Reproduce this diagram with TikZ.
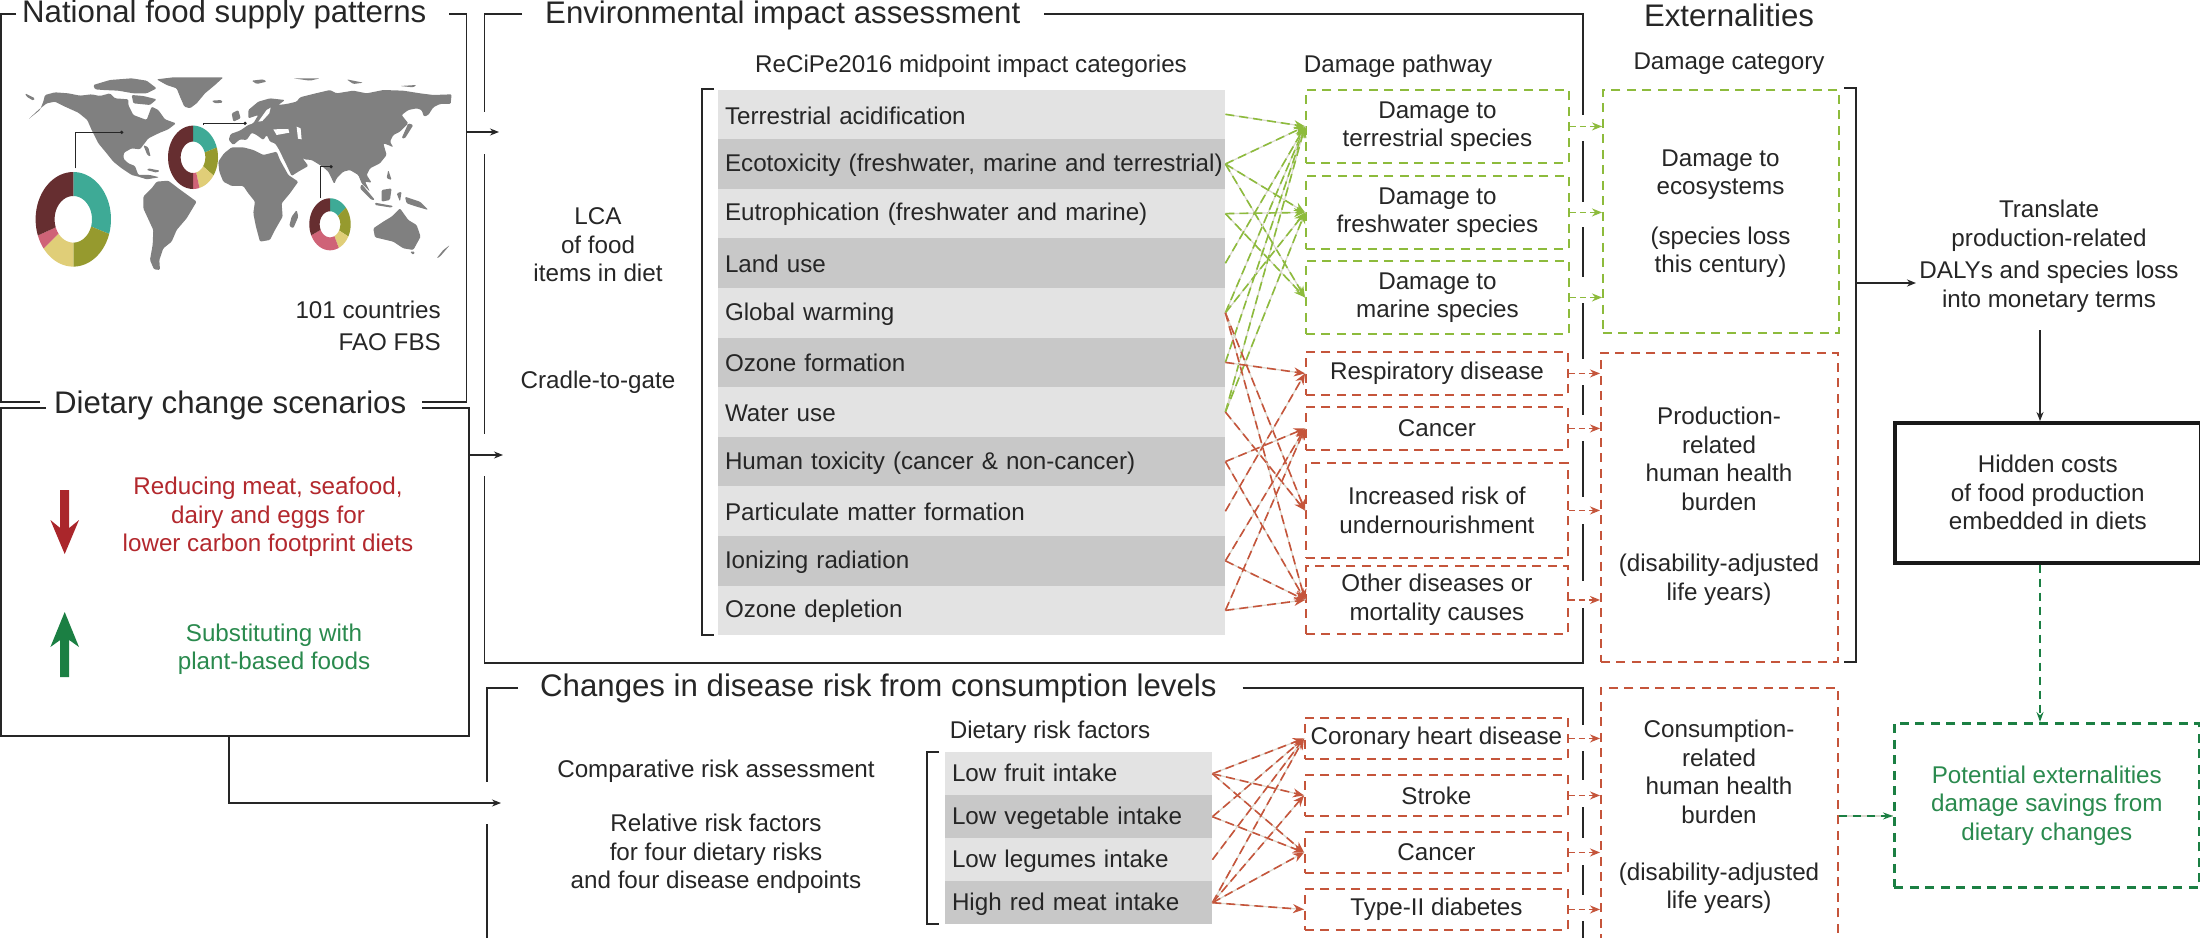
\documentclass[tikz,border=0pt]{standalone}
\usepackage{fontspec}
\setmainfont{Liberation Sans}
\usetikzlibrary{arrows.meta}
\definecolor{ink}{HTML}{262626}
\definecolor{rowlt}{HTML}{E3E3E3}
\definecolor{rowdk}{HTML}{C8C8C8}
\definecolor{lgreen}{HTML}{8DBB3C}
\definecolor{lred}{HTML}{C5553B}
\definecolor{dgreen}{HTML}{1B7F43}
\definecolor{txtred}{HTML}{B3282D}
\definecolor{txtgreen}{HTML}{2A8A4E}
\definecolor{palelink}{HTML}{DAD8CE}
\definecolor{mapgray}{HTML}{808080}
\definecolor{dteal}{HTML}{3EAA96}
\definecolor{dolive}{HTML}{969A2E}
\definecolor{dyellow}{HTML}{E0CE78}
\definecolor{dpink}{HTML}{CF6377}
\definecolor{ddark}{HTML}{662E30}
\newcommand{\fsT}{\fontsize{31.2}{38}\selectfont}
\newcommand{\fsM}{\fontsize{24.2}{28.5}\selectfont}
\tikzset{
  x=1pt,y=-1pt,
  frame/.style={draw=ink,line width=1.8pt},
  thinarrow/.style={draw=ink,line width=1.1pt,-{Stealth[length=9pt,width=7pt]}},
  title/.style={font=\fsT,text=ink,inner sep=0pt,anchor=base west},
  txt/.style={font=\fsM,text=ink,inner sep=0pt,align=center},
  rowbase/.style={font=\fsM,text=ink,anchor=north west,text width=493.4pt,inner xsep=6.8pt,inner ysep=0pt,align=left},
  rowa/.style={rowbase,fill=rowlt,minimum height=49.6pt,text height={(12.5+#1)*1pt},text depth={(12.5-#1)*1pt}},
  rowb/.style={rowbase,fill=rowdk,minimum height=49.6pt,text height={(12.5+#1)*1pt},text depth={(12.5-#1)*1pt}},
  srowa/.style={rowbase,fill=rowlt,text width=253.4pt,minimum height=43pt,text height=20pt,text depth=5pt},
  srowb/.style={rowbase,fill=rowdk,text width=253.4pt,minimum height=43pt,text height=20pt,text depth=5pt},
  gbox/.style={draw=lgreen,line width=1.9pt,dash pattern=on 9pt off 6.5pt,anchor=north west,inner sep=0pt,font=\fsM,text=ink,align=center},
  rbox/.style={draw=lred,line width=1.9pt,dash pattern=on 9pt off 6.5pt,anchor=north west,inner sep=0pt,font=\fsM,text=ink,align=center},
  glk/.style={draw=lgreen,line width=1.6pt,dash pattern=on 9pt off 5pt,-{Stealth[length=11pt,width=9pt]}},
  rlk/.style={draw=lred,line width=1.6pt,dash pattern=on 9pt off 5pt,-{Stealth[length=11pt,width=9pt]}},
  palelk/.style={draw=palelink,line width=1.2pt},
  gsm/.style={draw=lgreen,line width=1.5pt,dash pattern=on 6pt off 4pt,-{Stealth[length=10pt,width=8pt]}},
  rsm/.style={draw=lred,line width=1.5pt,dash pattern=on 6pt off 4pt,-{Stealth[length=10pt,width=8pt]}},
  dgk/.style={draw=dgreen,line width=1.6pt,dash pattern=on 8pt off 6pt,-{Stealth[length=10pt,width=7pt]}},
  leader/.style={draw=ink,line width=1pt},
}
\newcommand{\glink}[2]{\draw[palelk](#1.east)--(#2.west);\draw[glk](#1.east)--(#2.west);}
\newcommand{\rlink}[2]{\draw[palelk](#1.east)--(#2.west);\draw[rlk](#1.east)--(#2.west);}
% donut segment: centre, radii, inner radii, from, to (clockwise from top), colour
\newcommand{\dseg}[9]{\fill[#9] plot[domain=#7:#8,samples=24] ({#1+#3*sin(\x)},{#2-#4*cos(\x)}) -- plot[domain=#8:#7,samples=24] ({#1+#5*sin(\x)},{#2-#6*cos(\x)}) -- cycle;}
\begin{document}
\begin{tikzpicture}
\useasboundingbox (0,0) rectangle (2200,937);
\clip (0,0) rectangle (2200,937);
\fill[white] (0,0) rectangle (2200,937);

% ---------- map
\begin{scope}[shift={(0,60)},x=0.3333pt,y=-0.3333pt]
\fill[mapgray,rounded corners=1.2pt]
 (135,105)--(165,97)--(205,100)--(240,107)--(275,103)--(300,108)--(330,100)--(345,115)--(385,118)--(385,135)--(400,165)--(440,180)--(455,140)--(475,150)--(495,178)--(528,190)--(505,208)--(480,218)--(445,235)--(430,255)--(420,268)--(395,265)--(372,278)--(370,295)--(385,310)--(405,318)--(415,345)--(450,345)--(478,352)--(440,358)--(415,350)--(395,345)--(365,325)--(340,305)--(320,280)--(295,250)--(275,210)--(262,180)--(235,158)--(195,140)--(165,125)--(140,130)--(115,150)--(85,178)--(120,150)--(130,125)--cycle
 (75,100)--(105,115)--(100,122)--(80,110)--cycle
 (280,75)--(330,60)--(395,55)--(440,62)--(470,85)--(440,100)--(400,100)--(355,92)--(310,90)--(285,88)--cycle
 (395,105)--(430,108)--(470,118)--(450,135)--(400,130)--cycle
 (470,58)--(520,52)--(670,52)--(645,75)--(615,100)--(590,130)--(570,145)--(553,140)--(540,110)--(530,85)--(500,75)--cycle
 (635,122)--(665,120)--(668,128)--(645,130)--cycle
 (755,62)--(790,58)--(800,65)--(770,72)--cycle
 (880,55)--(960,55)--(930,62)--cycle
 (1040,58)--(1090,68)--(1060,72)--cycle
 (1200,78)--(1250,75)--(1240,82)--cycle
 (695,160)--(715,150)--(722,175)--(700,185)--cycle
 (686,240)--(692,222)--(720,212)--(745,195)--(760,190)--(775,165)--(760,170)--(745,175)--(745,150)--(775,125)--(810,115)--(855,120)--(835,135)--(860,132)--(890,125)--(900,112)--(935,103)--(990,90)--(1010,100)--(1060,92)--(1100,100)--(1150,90)--(1210,92)--(1260,100)--(1300,105)--(1355,103)--(1352,132)--(1320,132)--(1300,142)--(1285,165)--(1272,170)--(1265,150)--(1250,145)--(1225,150)--(1205,165)--(1225,190)--(1200,215)--(1180,225)--(1170,245)--(1180,262)--(1165,255)--(1150,250)--(1160,285)--(1140,310)--(1110,325)--(1100,345)--(1115,368)--(1095,365)--(1110,395)--(1085,370)--(1075,345)--(1050,330)--(1030,335)--(1010,355)--(1003,372)--(985,335)--(968,320)--(935,300)--(912,298)--(890,270)--(925,318)--(895,335)--(875,348)--(862,320)--(845,285)--(835,265)--(825,250)--(810,245)--(800,225)--(790,240)--(770,225)--(755,218)--(740,240)--(720,238)--(700,255)--cycle
 (655,305)--(672,280)--(695,262)--(730,262)--(760,270)--(790,285)--(830,275)--(840,300)--(865,345)--(895,365)--(870,400)--(845,430)--(848,470)--(825,510)--(810,540)--(780,545)--(768,500)--(760,460)--(765,425)--(745,400)--(730,378)--(695,378)--(670,365)--(658,335)--cycle
 (890,450)--(895,470)--(880,505)--(868,498)--(875,470)--cycle
 (430,410)--(455,385)--(470,365)--(505,362)--(535,385)--(590,425)--(575,450)--(560,475)--(530,510)--(515,545)--(490,565)--(478,600)--(480,630)--(462,628)--(450,600)--(458,555)--(460,510)--(430,445)--cycle
 (1085,372)--(1125,420)--(1115,420)--(1080,385)--cycle
 (1145,390)--(1175,385)--(1170,420)--(1145,425)--cycle
 (1125,428)--(1180,438)--(1175,443)--(1125,435)--cycle
 (1165,330)--(1175,360)--(1160,355)--cycle
 (1190,400)--(1205,395)--(1200,425)--cycle
 (1215,410)--(1260,425)--(1285,450)--(1250,440)--(1220,430)--cycle
 (1225,190)--(1240,195)--(1215,235)--(1205,235)--cycle
 (1120,505)--(1150,485)--(1175,470)--(1200,445)--(1225,480)--(1250,495)--(1262,530)--(1240,570)--(1210,565)--(1180,545)--(1125,532)--cycle
 (1230,575)--(1245,575)--(1240,585)--cycle
 (1350,555)--(1320,590)--(1310,595)--(1330,570)--cycle
 (445,325)--(480,332)--(470,338)--(440,330)--cycle
 (430,255)--(445,262)--(452,290)--(442,285)--cycle;
\fill[white] (820,208)--(865,207)--(868,218)--(830,225)--cycle
 (890,200)--(902,205)--(905,238)--(894,236)--cycle
 (775,185)--(800,150)--(812,143)--(808,160)--(787,183)--cycle;
\end{scope}

% ---------- donuts
\dseg{73.3}{219.3}{37.7}{47.3}{18.7}{23.3}{0}{108}{dteal}
\dseg{73.3}{219.3}{37.7}{47.3}{18.7}{23.3}{108}{180}{dolive}
\dseg{73.3}{219.3}{37.7}{47.3}{18.7}{23.3}{180}{232}{dyellow}
\dseg{73.3}{219.3}{37.7}{47.3}{18.7}{23.3}{232}{250}{dpink}
\dseg{73.3}{219.3}{37.7}{47.3}{18.7}{23.3}{250}{360}{ddark}
\dseg{193}{157.3}{25}{31.7}{12.3}{15.7}{0}{72}{dteal}
\dseg{193}{157.3}{25}{31.7}{12.3}{15.7}{72}{125}{dolive}
\dseg{193}{157.3}{25}{31.7}{12.3}{15.7}{125}{165}{dyellow}
\dseg{193}{157.3}{25}{31.7}{12.3}{15.7}{165}{180}{dpink}
\dseg{193}{157.3}{25}{31.7}{12.3}{15.7}{180}{360}{ddark}
\dseg{330}{224.3}{20.7}{26}{10.3}{13}{0}{50}{dteal}
\dseg{330}{224.3}{20.7}{26}{10.3}{13}{50}{118}{dolive}
\dseg{330}{224.3}{20.7}{26}{10.3}{13}{118}{155}{dyellow}
\dseg{330}{224.3}{20.7}{26}{10.3}{13}{155}{245}{dpink}
\dseg{330}{224.3}{20.7}{26}{10.3}{13}{245}{360}{ddark}
% leaders
\coordinate (d1a) at (75.7,168.3); \coordinate (d1b) at (121.7,132.3);
\coordinate (d2a) at (203.3,125); \coordinate (d2b) at (245,123.3);
\coordinate (d3a) at (320,198.3); \coordinate (d3b) at (331,166.7);
\draw[leader] (d1a) |- (d1b); \fill[ink] (d1b) circle (1.8);
\draw[leader] (d2a) |- (d2b); \fill[ink] (d2b) circle (1.8);
\draw[leader] (d3a) |- (d3b); \fill[ink] (d3b) circle (1.8);

% ---------- table rows
\node[rowa=10] (r1) at (718,89.3) {Terrestrial acidification};
\node[rowb=7] (r2) at (718,139) {\mbox{Ecotoxicity (freshwater, marine and terrestrial)}};
\node[rowa=7] (r3) at (718,188.6) {Eutrophication (freshwater and marine)};
\node[rowb=9.5] (r4) at (718,238.2) {Land use};
\node[rowa=8] (r5) at (718,287.8) {Global warming};
\node[rowb=9.5] (r6) at (718,337.4) {Ozone formation};
\node[rowa=9.5] (r7) at (718,387) {Water use};
\node[rowb=8] (r8) at (718,436.6) {Human toxicity (cancer \& non-cancer)};
\node[rowa=9] (r9) at (718,486.2) {Particulate matter formation};
\node[rowb=8] (r10) at (718,535.8) {Ionizing radiation};
\node[rowa=7.5] (r11) at (718,585.4) {Ozone depletion};

\node[srowa] (s1) at (945,752) {Low fruit intake};
\node[srowb] (s2) at (945,795) {Low vegetable intake};
\node[srowa] (s3) at (945,838) {Low legumes intake};
\node[srowb] (s4) at (945,881) {High red meat intake};

% ---------- damage pathway boxes
\node[gbox,minimum width=263pt,minimum height=73pt] (gT) at (1305,89) {Damage to\\terrestrial species};
\node[gbox,minimum width=263pt,minimum height=73pt] (gF) at (1305,175) {Damage to\\freshwater species};
\node[gbox,minimum width=263pt,minimum height=73pt] (gM) at (1305,260) {Damage to\\marine species};
\node[rbox,minimum width=262pt,minimum height=43pt] (pR) at (1305,351) {Respiratory disease};
\node[rbox,minimum width=262pt,minimum height=43pt] (pC) at (1305,406) {Cancer};
\node[rbox,minimum width=262pt,minimum height=95pt] (pU) at (1305,462) {Increased risk of\\undernourishment};
\node[rbox,minimum width=262pt,minimum height=68pt] (pO) at (1305,565) {Other diseases or\\mortality causes};
\node[rbox,minimum width=263pt,minimum height=41pt] (cH) at (1304,717) {Coronary heart disease};
\node[rbox,minimum width=263pt,minimum height=41pt] (cS) at (1304,774) {Stroke};
\node[rbox,minimum width=263pt,minimum height=41pt] (cC) at (1304,831) {Cancer};
\node[rbox,minimum width=263pt,minimum height=41pt] (cD) at (1304,888) {Type-II diabetes};

% ---------- damage category boxes
\node[gbox,minimum width=236pt,minimum height=243pt] (catE) at (1602,89) {};
\node[rbox,minimum width=237pt,minimum height=309pt] (catH) at (1600,352) {};
\node[rbox,minimum width=237pt,minimum height=256pt] (catC) at (1600,687) {};
\node[txt] (catEt) at (1720.5,213.5) {Damage to\\ecosystems\\[21pt](species loss\\this century)};
\node[txt] (catHt) at (1719,506) {Production-\\related\\human health\\burden\\[33pt](disability-adjusted\\life years)};
\node[txt] (catCt) at (1719,817) {Consumption-\\related\\human health\\burden\\[28.5pt](disability-adjusted\\life years)};

% ---------- green links
\glink{r1}{gT}\glink{r2}{gT}\glink{r2}{gF}\glink{r2}{gM}
\glink{r3}{gF}\glink{r3}{gM}\glink{r4}{gT}
\glink{r5}{gT}\glink{r5}{gF}\glink{r6}{gT}\glink{r7}{gT}\glink{r7}{gF}
% ---------- red links
\rlink{r5}{pU}\rlink{r5}{pO}\rlink{r6}{pR}\rlink{r7}{pU}
\rlink{r8}{pC}\rlink{r8}{pO}\rlink{r9}{pR}
\rlink{r10}{pC}\rlink{r10}{pO}\rlink{r11}{pC}\rlink{r11}{pO}
\rlink{s1}{cH}\rlink{s1}{cS}\rlink{s1}{cC}
\rlink{s2}{cH}\rlink{s2}{cC}
\rlink{s3}{cH}
\rlink{s4}{cH}\rlink{s4}{cS}\rlink{s4}{cC}\rlink{s4}{cD}

% ---------- small arrows from pathways to categories
\coordinate (eT) at (catE.west |- gT.east);
\coordinate (eF) at (catE.west |- gF.east);
\coordinate (eM) at (catE.west |- gM.east);
\draw[gsm] (gT.east) -- (eT);
\draw[gsm] (gF.east) -- (eF);
\draw[gsm] (gM.east) -- (eM);
\coordinate (hR) at (catH.west |- pR.east);
\coordinate (hC) at (catH.west |- pC.east);
\coordinate (hU) at (catH.west |- pU.east);
\coordinate (hO) at (catH.west |- pO.east);
\draw[rsm] (pR.east) -- (hR);
\draw[rsm] (pC.east) -- (hC);
\draw[rsm] (pU.east) -- (hU);
\draw[rsm] (pO.east) -- (hO);
\coordinate (kH) at (catC.west |- cH.east);
\coordinate (kS) at (catC.west |- cS.east);
\coordinate (kC) at (catC.west |- cC.east);
\coordinate (kD) at (catC.west |- cD.east);
\draw[rsm] (cH.east) -- (kH);
\draw[rsm] (cS.east) -- (kS);
\draw[rsm] (cC.east) -- (kC);
\draw[rsm] (cD.east) -- (kD);

% ---------- titles
\node[title] (tNat) at (22,22.7) {National food supply patterns};
\node[title] (tDiet) at (54,413) {Dietary change scenarios};
\node[title] (tEnv) at (545,23) {Environmental impact assessment};
\node[title] (tCh) at (540,696) {Changes in disease risk from consumption levels};
\node[title,anchor=base] (tExt) at (1729,26.7) {Externalities};

% ---------- left frames
\draw[frame] (16,14) -- (1,14) -- (1,402) -- (40,402);
\draw[frame] (449,14) -- (466.5,14) -- (466.5,402) -- (422,402);
\draw[frame] (46,408) -- (1,408) -- (1,736) -- (469,736) -- (469,408) -- (422,408);
\coordinate (boxA) at (466.5,132); \coordinate (boxAe) at (499,132);
\coordinate (boxB) at (469,455); \coordinate (boxBe) at (503,455);
\draw[thinarrow] (boxA) -- (boxAe);
\draw[thinarrow] (boxB) -- (boxBe);
\coordinate (boxC) at (229,736); \coordinate (boxCe) at (501,803);
\draw[thinarrow] (boxC) |- (boxCe);

% ---------- environmental frame
\draw[frame] (522,14) -- (484.5,14) -- (484.5,112);
\draw[frame] (484.5,154) -- (484.5,434);
\draw[frame] (484.5,476) -- (484.5,663) -- (1582.6,663) -- (1582.6,608);
\draw[frame] (1044,14) -- (1582.6,14) -- (1582.6,115);
\draw[frame] (1582.6,141) -- (1582.6,202);
\draw[frame] (1582.6,227) -- (1582.6,277);
\draw[frame] (1582.6,303) -- (1582.6,359);
\draw[frame] (1582.6,385) -- (1582.6,415);
\draw[frame] (1582.6,441) -- (1582.6,497);
\draw[frame] (1582.6,524) -- (1582.6,581);
% ---------- consumption frame
\draw[frame] (518,688) -- (486.6,688) -- (486.6,782);
\draw[frame] (486.6,824) -- (486.6,940);
\draw[frame] (1242.5,688) -- (1582.6,688) -- (1582.6,725);
\draw[frame] (1582.6,751) -- (1582.6,780);
\draw[frame] (1582.6,807) -- (1582.6,838);
\draw[frame] (1582.6,865) -- (1582.6,895);
\draw[frame] (1582.6,921) -- (1582.6,940);

% ---------- brackets
\draw[frame] (714,89) -- (702,89) -- (702,635) -- (714,635);
\draw[frame] (939,752) -- (927,752) -- (927,924) -- (939,924);
\draw[frame] (1844,88) -- (1856,88) -- (1856,662) -- (1844,662);

% ---------- labels
\node[txt,anchor=east] (n101) at (441,309.5) {101 countries};
\node[txt,anchor=east] (nfao) at (441,342.5) {FAO FBS};
\node[txt,text=txtred] (nred) at (268,517) {Reducing meat, seafood,\\dairy and eggs for\\lower carbon footprint diets};
\node[txt,text=txtgreen] (ngrn) at (274,649) {Substituting with\\plant-based foods};
\node[txt] (nlca) at (598,245) {LCA\\of food\\items in diet};
\node[txt] (ncg) at (598,382) {Cradle-to-gate};
\node[txt] (nrec) at (971,66) {ReCiPe2016 midpoint impact categories};
\node[txt] (npath) at (1398,66) {Damage pathway};
\node[txt] (ncat) at (1729,64) {Damage category};
\node[txt] (ncom) at (716,771) {Comparative risk assessment};
\node[txt] (nrel) at (716,854) {Relative risk factors\\for four dietary risks\\and four disease endpoints};
\node[txt] (nrisk) at (1050,732) {Dietary risk factors};
\node[txt] (ntrans) at (2049,256) {Translate\\production-related\\[4pt]DALYs and species loss\\into monetary terms};

% ---------- scenario arrows
\fill[txtred!95!black] (60.2,490)--(69.2,490)--(69.2,528)--(79,520)--(64.7,554)--(50.4,520)--(60.2,528)--cycle;
\fill[dgreen] (64.7,612)--(79,647)--(69.2,640)--(69.2,677)--(60.2,677)--(60.2,640)--(50.4,647)--cycle;

% ---------- right column
\node[draw=black!90,line width=3.6pt,anchor=north west,minimum width=306pt,minimum height=140pt,font=\fsM,text=ink,align=center,inner sep=0pt] (hid) at (1893,421) {Hidden costs\\of food production\\embedded in diets};
\node[draw=dgreen,line width=2.6pt,dash pattern=on 9pt off 6.5pt,anchor=north west,minimum width=305pt,minimum height=164pt,font=\fsM,text=txtgreen,align=center,inner sep=0pt] (pot) at (1893,722) {Potential externalities\\damage savings from\\dietary changes};
\coordinate (trA) at (1856,283); \coordinate (trB) at (1916,283);
\draw[thinarrow,line width=1.8pt] (trA) -- (trB);
\coordinate (trC) at (2040,330);
\draw[thinarrow] (trC) -- (trC |- hid.north);
\coordinate (hidB) at (trC |- hid.south);
\draw[dgk] (hidB) -- (trC |- pot.north);
\draw[palelk] (catC.east) -- (catC.east -| pot.west);
\draw[dgk] (catC.east) -- (catC.east -| pot.west);
\end{tikzpicture}
\end{document}
